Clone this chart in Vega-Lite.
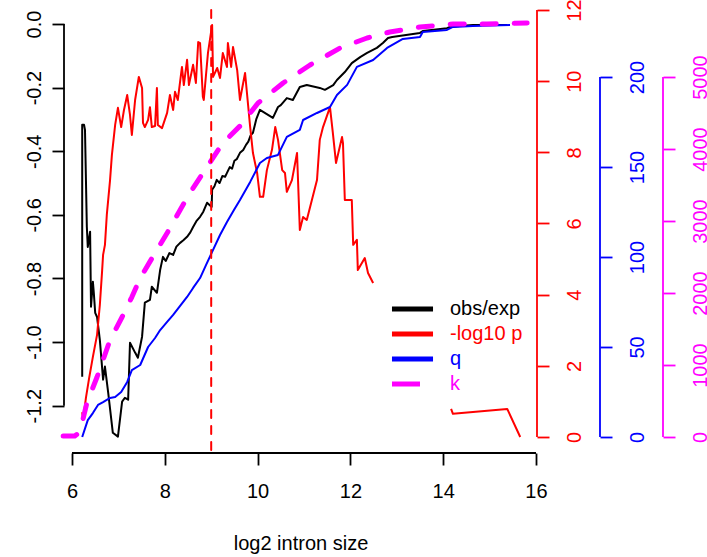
{
  "$schema": "https://vega.github.io/schema/vega-lite/v6.json",
  "autosize": {"type": "none"},
  "padding": {"left": 64, "top": 10, "right": 170, "bottom": 104},
  "width": 473,
  "height": 443,
  "config": {
    "view": {"stroke": null},
    "font": "Liberation Sans",
    "axis": {"grid": false, "domain": false, "labelFont": "Liberation Sans", "titleFont": "Liberation Sans", "labelFontSize": 20, "titleFontSize": 20, "titleFontWeight": "normal", "tickSize": 12, "tickWidth": 1.8, "labelFlush": false, "labelOverlap": false, "labelBound": false},
    "legend": {"labelFont": "Liberation Sans"}
  },
  "datasets": {
    "obs": [
      {"i":1,"x":6.22,"y":-1.109},{"i":2,"x":6.22,"y":-0.317},{"i":3,"x":6.26,"y":-0.317},{"i":4,"x":6.28,"y":-0.333},{"i":5,"x":6.32,"y":-0.638},{"i":6,"x":6.34,"y":-0.701},{"i":7,"x":6.39,"y":-0.653},{"i":8,"x":6.41,"y":-0.889},{"i":9,"x":6.45,"y":-0.81},{"i":10,"x":6.47,"y":-0.845},{"i":11,"x":6.5,"y":-0.908},{"i":12,"x":6.54,"y":-0.921},{"i":13,"x":6.6,"y":-0.993},{"i":14,"x":6.67,"y":-1.118},{"i":15,"x":6.71,"y":-1.077},{"i":16,"x":6.78,"y":-1.159},{"i":17,"x":6.88,"y":-1.285},{"i":18,"x":6.99,"y":-1.297},{"i":19,"x":7.08,"y":-1.187},{"i":20,"x":7.14,"y":-1.175},{"i":21,"x":7.21,"y":-1.181},{"i":22,"x":7.25,"y":-1.002},{"i":23,"x":7.36,"y":-1.033},{"i":24,"x":7.42,"y":-1.049},{"i":25,"x":7.51,"y":-0.983},{"i":26,"x":7.57,"y":-0.876},{"i":27,"x":7.68,"y":-0.867},{"i":28,"x":7.72,"y":-0.826},{"i":29,"x":7.83,"y":-0.845},{"i":30,"x":7.9,"y":-0.773},{"i":31,"x":7.96,"y":-0.732},{"i":32,"x":8.02,"y":-0.745},{"i":33,"x":8.1,"y":-0.72},{"i":34,"x":8.18,"y":-0.726},{"i":35,"x":8.25,"y":-0.7},{"i":36,"x":8.33,"y":-0.688},{"i":37,"x":8.4,"y":-0.68},{"i":38,"x":8.48,"y":-0.669},{"i":39,"x":8.55,"y":-0.655},{"i":40,"x":8.61,"y":-0.638},{"i":41,"x":8.68,"y":-0.62},{"i":42,"x":8.76,"y":-0.606},{"i":43,"x":8.83,"y":-0.59},{"i":44,"x":8.91,"y":-0.562},{"i":45,"x":8.97,"y":-0.57},{"i":46,"x":9.01,"y":-0.575},{"i":47,"x":9.02,"y":-0.521},{"i":48,"x":9.07,"y":-0.51},{"i":49,"x":9.12,"y":-0.49},{"i":50,"x":9.18,"y":-0.5},{"i":51,"x":9.24,"y":-0.478},{"i":52,"x":9.3,"y":-0.48},{"i":53,"x":9.34,"y":-0.468},{"i":54,"x":9.4,"y":-0.45},{"i":55,"x":9.45,"y":-0.455},{"i":56,"x":9.5,"y":-0.43},{"i":57,"x":9.55,"y":-0.425},{"i":58,"x":9.62,"y":-0.405},{"i":59,"x":9.69,"y":-0.396},{"i":60,"x":9.75,"y":-0.38},{"i":61,"x":9.8,"y":-0.37},{"i":62,"x":9.85,"y":-0.35},{"i":63,"x":9.9,"y":-0.342},{"i":64,"x":9.97,"y":-0.3},{"i":65,"x":10.05,"y":-0.27},{"i":66,"x":10.33,"y":-0.295},{"i":67,"x":10.44,"y":-0.261},{"i":68,"x":10.5,"y":-0.255},{"i":69,"x":10.63,"y":-0.233},{"i":70,"x":10.76,"y":-0.239},{"i":71,"x":10.91,"y":-0.198},{"i":72,"x":11.06,"y":-0.192},{"i":73,"x":11.34,"y":-0.201},{"i":74,"x":11.45,"y":-0.207},{"i":75,"x":11.63,"y":-0.192},{"i":76,"x":11.71,"y":-0.176},{"i":77,"x":11.88,"y":-0.151},{"i":78,"x":12.03,"y":-0.123},{"i":79,"x":12.21,"y":-0.104},{"i":80,"x":12.36,"y":-0.091},{"i":81,"x":12.57,"y":-0.075},{"i":82,"x":12.7,"y":-0.06},{"i":83,"x":12.81,"y":-0.044},{"i":84,"x":12.9,"y":-0.041},{"i":85,"x":13.5,"y":-0.028},{"i":86,"x":13.56,"y":-0.022},{"i":87,"x":14.08,"y":-0.013},{"i":88,"x":14.15,"y":-0.009},{"i":89,"x":14.64,"y":-0.003},{"i":90,"x":15.38,"y":-0.003}
    ],
    "red": [
      {"seg":1,"x":6.22,"y":0.7},{"seg":1,"x":6.24,"y":0.48},{"seg":1,"x":6.3,"y":1.1},{"seg":1,"x":6.37,"y":1.66},{"seg":1,"x":6.45,"y":2.25},{"seg":1,"x":6.54,"y":2.87},{"seg":1,"x":6.6,"y":3.71},{"seg":1,"x":6.65,"y":4.69},{"seg":1,"x":6.67,"y":5.12},{"seg":1,"x":6.69,"y":5.26},{"seg":1,"x":6.71,"y":5.4},{"seg":1,"x":6.75,"y":6.24},{"seg":1,"x":6.82,"y":7.22},{"seg":1,"x":6.86,"y":7.93},{"seg":1,"x":6.93,"y":8.77},{"seg":1,"x":6.99,"y":9.25},{"seg":1,"x":7.06,"y":8.71},{"seg":1,"x":7.12,"y":9.19},{"seg":1,"x":7.19,"y":9.61},{"seg":1,"x":7.25,"y":9.05},{"seg":1,"x":7.29,"y":8.49},{"seg":1,"x":7.36,"y":9.47},{"seg":1,"x":7.44,"y":10.12},{"seg":1,"x":7.51,"y":9.81},{"seg":1,"x":7.53,"y":8.83},{"seg":1,"x":7.57,"y":8.71},{"seg":1,"x":7.64,"y":8.91},{"seg":1,"x":7.68,"y":9.27},{"seg":1,"x":7.72,"y":8.71},{"seg":1,"x":7.79,"y":8.74},{"seg":1,"x":7.83,"y":9.81},{"seg":1,"x":7.85,"y":8.77},{"seg":1,"x":7.94,"y":8.68},{"seg":1,"x":8.05,"y":9.11},{"seg":1,"x":8.11,"y":9.61},{"seg":1,"x":8.18,"y":9.19},{"seg":1,"x":8.22,"y":9.7},{"seg":1,"x":8.28,"y":9.47},{"seg":1,"x":8.37,"y":10.4},{"seg":1,"x":8.41,"y":9.89},{"seg":1,"x":8.48,"y":10.6},{"seg":1,"x":8.52,"y":9.89},{"seg":1,"x":8.61,"y":10.46},{"seg":1,"x":8.67,"y":9.95},{"seg":1,"x":8.72,"y":11.1},{"seg":1,"x":8.76,"y":11.07},{"seg":1,"x":8.82,"y":9.56},{"seg":1,"x":8.84,"y":9.47},{"seg":1,"x":8.93,"y":10.79},{"seg":1,"x":9.02,"y":11.58},{"seg":1,"x":9.04,"y":10.12},{"seg":1,"x":9.13,"y":10.37},{"seg":1,"x":9.19,"y":10.09},{"seg":1,"x":9.25,"y":10.79},{"seg":1,"x":9.34,"y":10.4},{"seg":1,"x":9.36,"y":11.07},{"seg":1,"x":9.43,"y":10.4},{"seg":1,"x":9.47,"y":10.96},{"seg":1,"x":9.56,"y":10.31},{"seg":1,"x":9.62,"y":9.47},{"seg":1,"x":9.73,"y":10.23},{"seg":1,"x":9.84,"y":8.71},{"seg":1,"x":9.9,"y":7.98},{"seg":1,"x":9.99,"y":7.42},{"seg":1,"x":10.05,"y":6.75},{"seg":1,"x":10.12,"y":6.75},{"seg":1,"x":10.2,"y":7.5},{"seg":1,"x":10.31,"y":8.07},{"seg":1,"x":10.38,"y":8.71},{"seg":1,"x":10.44,"y":8.35},{"seg":1,"x":10.53,"y":7.5},{"seg":1,"x":10.59,"y":7.42},{"seg":1,"x":10.63,"y":6.89},{"seg":1,"x":10.74,"y":7.22},{"seg":1,"x":10.85,"y":7.98},{"seg":1,"x":10.91,"y":5.82},{"seg":1,"x":10.98,"y":6.18},{"seg":1,"x":11.06,"y":6.1},{"seg":1,"x":11.17,"y":6.66},{"seg":1,"x":11.28,"y":7.22},{"seg":1,"x":11.34,"y":8.35},{"seg":1,"x":11.41,"y":8.71},{"seg":1,"x":11.56,"y":9.27},{"seg":1,"x":11.62,"y":8.57},{"seg":1,"x":11.69,"y":7.7},{"seg":1,"x":11.82,"y":8.43},{"seg":1,"x":11.84,"y":8.26},{"seg":1,"x":11.88,"y":6.66},{"seg":1,"x":12.03,"y":6.66},{"seg":1,"x":12.06,"y":5.4},{"seg":1,"x":12.14,"y":5.54},{"seg":1,"x":12.16,"y":4.69},{"seg":1,"x":12.31,"y":5.03},{"seg":1,"x":12.38,"y":4.61},{"seg":1,"x":12.49,"y":4.33},
      {"seg":2,"x":14.17,"y":0.79},{"seg":2,"x":14.21,"y":0.65},{"seg":2,"x":15.38,"y":0.79},{"seg":2,"x":15.66,"y":0.0}
    ],
    "q": [
      {"x":6.22,"y":0},{"x":6.34,"y":9.4},{"x":6.45,"y":13.3},{"x":6.56,"y":17.8},{"x":6.67,"y":19.4},{"x":6.82,"y":21.7},{"x":6.93,"y":22.2},{"x":7.06,"y":25},{"x":7.19,"y":30.6},{"x":7.29,"y":37.2},{"x":7.47,"y":40},{"x":7.64,"y":50},{"x":7.79,"y":55},{"x":7.9,"y":59.4},{"x":8.05,"y":63.9},{"x":8.18,"y":67.8},{"x":8.33,"y":72.8},{"x":8.48,"y":77.8},{"x":8.61,"y":82.8},{"x":8.76,"y":88.3},{"x":8.89,"y":95.6},{"x":9.02,"y":102.8},{"x":9.19,"y":112.2},{"x":9.34,"y":119.4},{"x":9.49,"y":126.1},{"x":9.62,"y":131.7},{"x":9.84,"y":141.7},{"x":10.05,"y":152.2},{"x":10.2,"y":155},{"x":10.44,"y":156.7},{"x":10.63,"y":166.7},{"x":10.91,"y":170.6},{"x":10.98,"y":176.1},{"x":11.28,"y":180},{"x":11.56,"y":183.3},{"x":11.71,"y":190},{"x":11.93,"y":195.6},{"x":12.14,"y":205.6},{"x":12.49,"y":209.4},{"x":12.79,"y":216.1},{"x":13.13,"y":221.1},{"x":13.5,"y":222.2},{"x":13.56,"y":225},{"x":14.08,"y":226.1},{"x":14.21,"y":227.8},{"x":14.64,"y":228.3},{"x":15.44,"y":228.9}
    ],
    "k": [
      {"x":5.81,"y":14},{"x":6.06,"y":14},{"x":6.17,"y":69},{"x":6.32,"y":472},{"x":6.54,"y":833},{"x":6.82,"y":1347},{"x":7.08,"y":1667},{"x":7.29,"y":1944},{"x":7.47,"y":2208},{"x":7.79,"y":2556},{"x":8.05,"y":2833},{"x":8.33,"y":3153},{"x":8.54,"y":3389},{"x":8.91,"y":3750},{"x":9.25,"y":4083},{"x":9.62,"y":4319},{"x":10.01,"y":4639},{"x":10.55,"y":4917},{"x":11.13,"y":5167},{"x":11.78,"y":5403},{"x":12.36,"y":5542},{"x":12.85,"y":5625},{"x":13.5,"y":5694},{"x":14.21,"y":5736},{"x":14.94,"y":5736},{"x":15.81,"y":5750}
    ]
  },
  "layer": [
    {
      "layer": [
        {
          "data": {"name": "obs"},
          "mark": {"type": "line", "strokeWidth": 2, "strokeJoin": "round"},
          "encoding": {
            "x": {"field": "x", "type": "quantitative", "scale": {"domain": [5.8276, 16.0216], "nice": false, "zero": false},
              "axis": {"values": [6, 8, 10, 12, 14, 16], "format": "d", "title": "log2 intron size", "tickColor": "black", "labelColor": "black", "titleColor": "black", "labelAngle": 0, "labelPadding": 16, "titlePadding": 32}},
            "y": {"field": "y", "type": "quantitative", "scale": {"domain": [-1.3486, 0.044], "nice": false, "zero": false},
              "axis": {"orient": "left", "values": [-1.2, -1, -0.8, -0.6, -0.4, -0.2, 0], "labelExpr": "replace(format(datum.value, '.1f'), '\u2212', '-')", "title": null, "tickColor": "black", "labelColor": "black", "labelAngle": -90, "labelAlign": "center", "labelBaseline": "alphabetic", "labelPadding": 12}},
            "order": {"field": "i", "type": "quantitative"},
            "color": {"datum": "obs/exp", "type": "nominal",
              "scale": {"domain": ["obs/exp", "-log10 p", "q", "k"], "range": ["#000000", "#FF0000", "#0000FF", "#FF00FF"]},
              "legend": {"title": null, "orient": "none", "legendX": 337, "legendY": 287.5, "padding": 0, "symbolType": "M-2.28,0H2.28", "symbolSize": 324, "symbolStrokeWidth": 5, "labelFontSize": 20, "labelOffset": 26, "rowPadding": 3, "labelLimit": 0,
                "encode": {"labels": {"update": {"fill": {"scale": "color", "field": "value"}}}, "symbols": {"update": {"strokeDash": {"signal": "datum.value === 'k' ? [28, 100] : [1000, 0]"}}}}}}
          }
        },
        {
          "data": {"values": [{}]},
          "mark": {"type": "rule", "color": "black", "strokeWidth": 1.8},
          "encoding": {
            "x": {"datum": 5.8276, "type": "quantitative", "scale": {"domain": [5.8276, 16.0216], "nice": false, "zero": false},
              "axis": {"values": [6, 8, 10, 12, 14, 16], "format": "d", "title": "log2 intron size", "tickColor": "black", "labelColor": "black", "titleColor": "black", "labelAngle": 0, "labelPadding": 16, "titlePadding": 32}},
            "y": {"datum": -1.2, "type": "quantitative", "scale": {"domain": [-1.3486, 0.044], "nice": false, "zero": false},
              "axis": {"orient": "left", "values": [-1.2, -1, -0.8, -0.6, -0.4, -0.2, 0], "labelExpr": "replace(format(datum.value, '.1f'), '\u2212', '-')", "title": null, "tickColor": "black", "labelColor": "black", "labelAngle": -90, "labelAlign": "center", "labelBaseline": "alphabetic", "labelPadding": 12}},
            "y2": {"datum": 0}
          }
        },
        {
          "data": {"values": [{}]},
          "mark": {"type": "rule", "color": "black", "strokeWidth": 1.8},
          "encoding": {
            "x": {"datum": 6, "type": "quantitative", "scale": {"domain": [5.8276, 16.0216], "nice": false, "zero": false},
              "axis": {"values": [6, 8, 10, 12, 14, 16], "format": "d", "title": "log2 intron size", "tickColor": "black", "labelColor": "black", "titleColor": "black", "labelAngle": 0, "labelPadding": 16, "titlePadding": 32}},
            "x2": {"datum": 16},
            "y": {"datum": -1.3486, "type": "quantitative", "scale": {"domain": [-1.3486, 0.044], "nice": false, "zero": false},
              "axis": {"orient": "left", "values": [-1.2, -1, -0.8, -0.6, -0.4, -0.2, 0], "labelExpr": "replace(format(datum.value, '.1f'), '\u2212', '-')", "title": null, "tickColor": "black", "labelColor": "black", "labelAngle": -90, "labelAlign": "center", "labelBaseline": "alphabetic", "labelPadding": 12}}
          }
        }
      ]
    },
    {
      "layer": [
        {
          "data": {"name": "red"},
          "mark": {"type": "line", "strokeWidth": 2, "strokeJoin": "round"},
          "encoding": {
            "x": {"field": "x", "type": "quantitative", "scale": {"domain": [5.8276, 16.0216], "nice": false, "zero": false},
              "axis": {"values": [6, 8, 10, 12, 14, 16], "format": "d", "title": "log2 intron size", "tickColor": "black", "labelColor": "black", "titleColor": "black", "labelAngle": 0, "labelPadding": 16, "titlePadding": 32}},
            "y": {"field": "y", "type": "quantitative", "scale": {"domain": [-0.4497, 12], "nice": false, "zero": false},
              "axis": {"orient": "right", "offset": 0, "values": [0, 2, 4, 6, 8, 10, 12], "format": "d", "title": null, "tickColor": "#FF0000", "labelColor": "#FF0000", "labelAngle": -90, "labelAlign": "center", "labelBaseline": "top", "labelPadding": 15}},
            "detail": {"field": "seg", "type": "nominal"},
            "color": {"datum": "-log10 p", "type": "nominal", "scale": {"domain": ["obs/exp", "-log10 p", "q", "k"], "range": ["#000000", "#FF0000", "#0000FF", "#FF00FF"]}, "legend": null}
          }
        },
        {
          "data": {"values": [{}]},
          "mark": {"type": "rule", "color": "#FF0000", "strokeWidth": 1.8},
          "encoding": {
            "x": {"datum": 16.0216, "type": "quantitative", "scale": {"domain": [5.8276, 16.0216], "nice": false, "zero": false},
              "axis": {"values": [6, 8, 10, 12, 14, 16], "format": "d", "title": "log2 intron size", "tickColor": "black", "labelColor": "black", "titleColor": "black", "labelAngle": 0, "labelPadding": 16, "titlePadding": 32}},
            "y": {"datum": 0, "type": "quantitative", "scale": {"domain": [-0.4497, 12], "nice": false, "zero": false},
              "axis": {"orient": "right", "offset": 0, "values": [0, 2, 4, 6, 8, 10, 12], "format": "d", "title": null, "tickColor": "#FF0000", "labelColor": "#FF0000", "labelAngle": -90, "labelAlign": "center", "labelBaseline": "top", "labelPadding": 15}},
            "y2": {"datum": 12}
          }
        }
      ]
    },
    {
      "layer": [
        {
          "data": {"name": "q"},
          "mark": {"type": "line", "strokeWidth": 2, "strokeJoin": "round"},
          "encoding": {
            "x": {"field": "x", "type": "quantitative", "scale": {"domain": [5.8276, 16.0216], "nice": false, "zero": false},
              "axis": {"values": [6, 8, 10, 12, 14, 16], "format": "d", "title": "log2 intron size", "tickColor": "black", "labelColor": "black", "titleColor": "black", "labelAngle": 0, "labelPadding": 16, "titlePadding": 32}},
            "y": {"field": "y", "type": "quantitative", "scale": {"domain": [-8.89, 237.2], "nice": false, "zero": false},
              "axis": {"orient": "right", "offset": 63, "values": [0, 50, 100, 150, 200], "format": "d", "title": null, "tickColor": "#0000FF", "labelColor": "#0000FF", "labelAngle": -90, "labelAlign": "center", "labelBaseline": "top", "labelPadding": 15}},
            "color": {"datum": "q", "type": "nominal", "scale": {"domain": ["obs/exp", "-log10 p", "q", "k"], "range": ["#000000", "#FF0000", "#0000FF", "#FF00FF"]}, "legend": null}
          }
        },
        {
          "data": {"values": [{}]},
          "mark": {"type": "rule", "color": "#0000FF", "strokeWidth": 1.8},
          "encoding": {
            "x": {"datum": 17.3793, "type": "quantitative", "scale": {"domain": [5.8276, 16.0216], "nice": false, "zero": false},
              "axis": {"values": [6, 8, 10, 12, 14, 16], "format": "d", "title": "log2 intron size", "tickColor": "black", "labelColor": "black", "titleColor": "black", "labelAngle": 0, "labelPadding": 16, "titlePadding": 32}},
            "y": {"datum": 0, "type": "quantitative", "scale": {"domain": [-8.89, 237.2], "nice": false, "zero": false},
              "axis": {"orient": "right", "offset": 63, "values": [0, 50, 100, 150, 200], "format": "d", "title": null, "tickColor": "#0000FF", "labelColor": "#0000FF", "labelAngle": -90, "labelAlign": "center", "labelBaseline": "top", "labelPadding": 15}},
            "y2": {"datum": 200}
          }
        }
      ]
    },
    {
      "layer": [
        {
          "data": {"name": "k"},
          "mark": {"type": "line", "strokeWidth": 5, "strokeDash": [14, 18], "strokeCap": "round", "strokeJoin": "round"},
          "encoding": {
            "x": {"field": "x", "type": "quantitative", "scale": {"domain": [5.8276, 16.0216], "nice": false, "zero": false},
              "axis": {"values": [6, 8, 10, 12, 14, 16], "format": "d", "title": "log2 intron size", "tickColor": "black", "labelColor": "black", "titleColor": "black", "labelAngle": 0, "labelPadding": 16, "titlePadding": 32}},
            "y": {"field": "y", "type": "quantitative", "scale": {"domain": [-222.2, 5930.6], "nice": false, "zero": false},
              "axis": {"orient": "right", "offset": 126, "values": [0, 1000, 2000, 3000, 4000, 5000], "format": "d", "title": null, "tickColor": "#FF00FF", "labelColor": "#FF00FF", "labelAngle": -90, "labelAlign": "center", "labelBaseline": "top", "labelPadding": 15}},
            "color": {"datum": "k", "type": "nominal", "scale": {"domain": ["obs/exp", "-log10 p", "q", "k"], "range": ["#000000", "#FF0000", "#0000FF", "#FF00FF"]}, "legend": null}
          }
        },
        {
          "data": {"values": [{}]},
          "mark": {"type": "rule", "color": "#FF00FF", "strokeWidth": 1.8},
          "encoding": {
            "x": {"datum": 18.7371, "type": "quantitative", "scale": {"domain": [5.8276, 16.0216], "nice": false, "zero": false},
              "axis": {"values": [6, 8, 10, 12, 14, 16], "format": "d", "title": "log2 intron size", "tickColor": "black", "labelColor": "black", "titleColor": "black", "labelAngle": 0, "labelPadding": 16, "titlePadding": 32}},
            "y": {"datum": 0, "type": "quantitative", "scale": {"domain": [-222.2, 5930.6], "nice": false, "zero": false},
              "axis": {"orient": "right", "offset": 126, "values": [0, 1000, 2000, 3000, 4000, 5000], "format": "d", "title": null, "tickColor": "#FF00FF", "labelColor": "#FF00FF", "labelAngle": -90, "labelAlign": "center", "labelBaseline": "top", "labelPadding": 15}},
            "y2": {"datum": 5000}
          }
        }
      ]
    },
    {
      "data": {"values": [{}]},
      "mark": {"type": "rule", "color": "#FF0000", "strokeWidth": 2, "strokeDash": [8, 8], "strokeCap": "round"},
      "encoding": {
        "x": {"datum": 9, "type": "quantitative", "scale": {"domain": [5.8276, 16.0216], "nice": false, "zero": false},
          "axis": {"values": [6, 8, 10, 12, 14, 16], "format": "d", "title": "log2 intron size", "tickColor": "black", "labelColor": "black", "titleColor": "black", "labelAngle": 0, "labelPadding": 16, "titlePadding": 32}}
      }
    }
  ],
  "resolve": {"scale": {"y": "independent"}}
}
